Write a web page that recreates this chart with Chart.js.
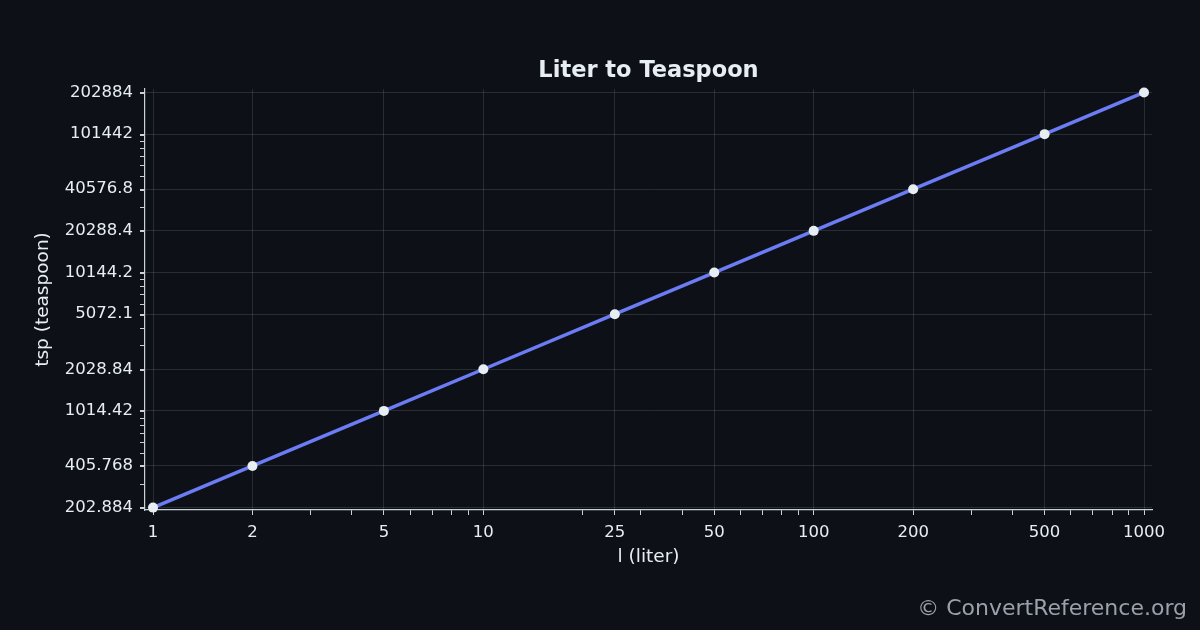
<!DOCTYPE html>
<html>
<head>
<meta charset="utf-8">
<title>Liter to Teaspoon</title>
<script src="https://cdn.jsdelivr.net/npm/chart.js@4/dist/chart.umd.min.js"></script>
<style>
  html, body { margin: 0; padding: 0; background: #0d1117; }
  #chart { display: block; }
</style>
</head>
<body>
<canvas id="chart" width="1200" height="630"></canvas>
<script>
// Data: liters -> teaspoons
const liters = [1, 2, 5, 10, 25, 50, 100, 200, 500, 1000];
const teaspoons = [202.884, 405.768, 1014.42, 2028.84, 5072.1, 10144.2, 20288.4, 40576.8, 101442, 202884];

// Tick labels, as printed on the axes
const xTickLabels = ['1', '2', '5', '10', '25', '50', '100', '200', '500', '1000'];
const yTickLabels = ['202.884', '405.768', '1014.42', '2028.84', '5072.1', '10144.2', '20288.4', '40576.8', '101442', '202884'];

// Axis ranges (log scale, small margin round the data)
const xRange = [0.9457, 1057];
const yRange = [195, 215000];

const FONT = "'DejaVu Sans', 'Liberation Sans', sans-serif";
const TEXT = '#e6edf3';
const SPINE = '#c9d1d9';
const GRID = 'rgba(240, 246, 252, 0.12)';

// Minor tick positions: 1..9 x 10^n inside the range
function minorTicks(min, max, majors) {
  const out = [];
  for (let e = Math.floor(Math.log10(min)); e <= Math.ceil(Math.log10(max)); e++) {
    for (let k = 1; k <= 9; k++) {
      const v = k * Math.pow(10, e);
      if (v >= min && v <= max && !majors.includes(v)) out.push(v);
    }
  }
  return out;
}

// Replace auto ticks with major (labelled) + minor (unlabelled) ticks
function setTicks(majors, labels) {
  return (scale) => {
    const minors = minorTicks(scale.min, scale.max, majors);
    const ticks = majors.map((v, i) => ({ value: v, major: true, label: labels[i] }))
      .concat(minors.map(v => ({ value: v, major: false, label: '' })));
    ticks.sort((a, b) => a.value - b.value);
    scale.ticks = ticks;
  };
}

function tickLabel(majors, labels) {
  return (value) => {
    const i = majors.indexOf(value);
    return i >= 0 ? labels[i] : '';
  };
}

function gridColor(majors) {
  return (ctx) => (ctx.tick && majors.includes(ctx.tick.value) ? GRID : 'rgba(0,0,0,0)');
}

// Background, title over the plot area, and watermark
const decor = {
  id: 'decor',
  beforeDraw(chart) {
    const { ctx, width, height } = chart;
    ctx.save();
    ctx.fillStyle = '#0d1117';
    ctx.fillRect(0, 0, width, height);
    ctx.restore();
  },
  afterDraw(chart) {
    const { ctx, chartArea } = chart;
    ctx.save();
    ctx.textBaseline = 'middle';

    ctx.font = `bold 22.5px ${FONT}`;
    ctx.fillStyle = TEXT;
    ctx.textAlign = 'center';
    ctx.fillText('Liter to Teaspoon', (chartArea.left + chartArea.right) / 2, 71);

    ctx.font = `22px ${FONT}`;
    ctx.fillStyle = '#9aa1ab';
    ctx.textAlign = 'right';
    ctx.fillText('\u00A9 ConvertReference.org', 1187, 609);
    ctx.restore();
  }
};

new Chart(document.getElementById('chart'), {
  type: 'line',
  data: {
    datasets: [{
      label: 'Liter to Teaspoon',
      data: liters.map((x, i) => ({ x, y: teaspoons[i] })),
      borderColor: '#6b7cf4',
      borderWidth: 3.5,
      pointRadius: 5,
      pointBackgroundColor: '#e6edf3',
      pointBorderColor: '#e6edf3',
      pointBorderWidth: 0,
      tension: 0,
      clip: false
    }]
  },
  options: {
    responsive: false,
    animation: false,
    devicePixelRatio: 1,
    layout: {
      padding: { top: 89, left: 20, right: 48, bottom: 50 }
    },
    plugins: {
      legend: { display: false },
      tooltip: { enabled: false },
      title: { display: false }
    },
    scales: {
      x: {
        type: 'logarithmic',
        min: xRange[0],
        max: xRange[1],
        afterBuildTicks: setTicks(liters, xTickLabels),
        afterFit: (s) => { s.height = 70; },
        ticks: {
          autoSkip: false,
          maxRotation: 0,
          color: TEXT,
          padding: 8,
          font: { family: FONT, size: 16.5 },
          callback: tickLabel(liters, xTickLabels)
        },
        grid: {
          color: gridColor(liters),
          tickColor: SPINE,
          tickLength: 5,
          lineWidth: 1
        },
        border: { color: SPINE, width: 1.2 },
        title: {
          display: true,
          text: 'l (liter)',
          color: TEXT,
          font: { family: FONT, size: 18.5 },
          padding: { top: 4, bottom: 12 }
        }
      },
      y: {
        type: 'logarithmic',
        min: yRange[0],
        max: yRange[1],
        afterBuildTicks: setTicks(teaspoons, yTickLabels),
        afterFit: (s) => { s.width = 125; },
        ticks: {
          autoSkip: false,
          color: TEXT,
          padding: 7,
          font: { family: FONT, size: 16.5 },
          callback: tickLabel(teaspoons, yTickLabels)
        },
        grid: {
          color: gridColor(teaspoons),
          tickColor: SPINE,
          tickLength: 5,
          lineWidth: 1
        },
        border: { color: SPINE, width: 1.2 },
        title: {
          display: true,
          text: 'tsp (teaspoon)',
          color: TEXT,
          font: { family: FONT, size: 18.5 },
          padding: { top: 12, bottom: 4 }
        }
      }
    }
  },
  plugins: [decor]
});
</script>
</body>
</html>
